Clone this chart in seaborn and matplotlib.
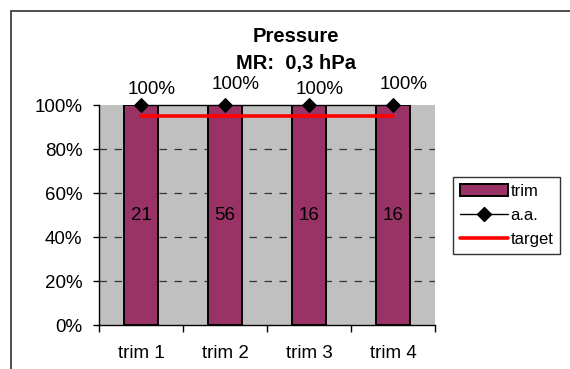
import numpy as np
import pandas as pd
import matplotlib
matplotlib.use("Agg")
import matplotlib.pyplot as plt
import seaborn as sns
from matplotlib.patches import Patch, Rectangle
from matplotlib.lines import Line2D
from matplotlib.ticker import FixedLocator, PercentFormatter

# --- data -------------------------------------------------------------
categories = ["trim 1", "trim 2", "trim 3", "trim 4"]
trim_share = [1.00, 1.00, 1.00, 1.00]      # share of values within MR
trim_counts = [21, 56, 16, 16]             # number of values per trimester
aa_share = [1.00, 1.00, 1.00, 1.00]        # annual aggregate
target_share = [0.95, 0.95, 0.95, 0.95]    # target level
y_ticks = [0.0, 0.2, 0.4, 0.6, 0.8, 1.0]

title_lines = ["Pressure", "MR:  0,3 hPa"]

# --- style ------------------------------------------------------------
sns.set_theme(style="white")
plt.rcParams["font.family"] = ["Liberation Sans", "DejaVu Sans"]
plt.rcParams.update({"text.color": "black", "axes.labelcolor": "black",
                     "xtick.color": "black", "ytick.color": "black"})

BAR = "#993366"
PLOT_BG = "#C0C0C0"
FS = 13.5

W, H = 570, 369
fig = plt.figure(figsize=(W / 100, H / 100), dpi=100)
fig.patch.set_facecolor("white")

# chart frame
fig.add_artist(Rectangle((11 / W, -0.1), 1.2, (1 - 11 / H) + 0.1,
                         transform=fig.transFigure, fill=False,
                         edgecolor="#404040", linewidth=1.3))

ax = fig.add_axes([99 / W, 1 - 325 / H, (435 - 99) / W, (325 - 105) / H])
ax.set_facecolor(PLOT_BG)

df = pd.DataFrame({"period": categories, "share": trim_share})
pos = np.arange(len(categories))

sns.barplot(data=df, x="period", y="share", color=BAR, saturation=1,
            width=0.4, edgecolor="black", linewidth=1.4, ax=ax, zorder=2)
ax.bar_label(ax.containers[0], labels=[str(c) for c in trim_counts],
             label_type="center", fontsize=FS, color="black")

sns.lineplot(x=pos, y=target_share, color="#FF0000", linewidth=2.6,
             ax=ax, zorder=3)
sns.lineplot(x=pos, y=aa_share, color="black", linewidth=1.0, marker="D",
             markersize=7, markeredgecolor="black", ax=ax, zorder=4,
             clip_on=False)

for i, v in enumerate(aa_share):
    dy = 11.5 if i % 2 == 0 else 14.5
    ax.annotate(f"{v:.0%}", (pos[i], v), xytext=(8, dy),
                textcoords="offset points", ha="center", va="center",
                fontsize=FS, annotation_clip=False)

# axes
ax.set_xlim(-0.5, len(categories) - 0.5)
ax.set_ylim(0, 1)
ax.set_xlabel("")
ax.set_ylabel("")
ax.yaxis.set_major_locator(FixedLocator(y_ticks))
ax.yaxis.set_major_formatter(PercentFormatter(1.0, decimals=0))
ax.tick_params(axis="y", direction="out", length=4, width=1, color="black",
               pad=8, labelsize=FS, left=True)

ax.xaxis.set_major_locator(FixedLocator(np.arange(-0.5, len(categories), 1.0)))
ax.xaxis.set_minor_locator(FixedLocator(pos))
ax.set_xticklabels([], minor=False)
ax.set_xticklabels(categories, minor=True)
ax.tick_params(axis="x", which="major", direction="out", length=5, width=1,
               color="black", bottom=True)
ax.tick_params(axis="x", which="minor", length=0, pad=14.5, labelsize=FS)

for y in y_ticks[1:-1]:
    ax.axhline(y, color="#333333", linewidth=0.9, linestyle=(0, (6, 6)),
               zorder=1)

for side in ("top", "right"):
    ax.spines[side].set_visible(False)
for side in ("left", "bottom"):
    ax.spines[side].set_color("black")
    ax.spines[side].set_linewidth(1.0)
ax.grid(False)

# titles
fig.text(296 / W, 1 - 36 / H, title_lines[0], ha="center", va="center",
         fontsize=14.5, fontweight="bold")
fig.text(296 / W, 1 - 63 / H, title_lines[1], ha="center", va="center",
         fontsize=14.5, fontweight="bold")

# legend
handles = [
    Patch(facecolor=BAR, edgecolor="black", linewidth=1.4),
    Line2D([], [], color="black", linewidth=1.0, marker="D", markersize=7),
    Line2D([], [], color="#FF0000", linewidth=2.6),
]
leg = fig.legend(handles, ["trim", "a.a.", "target"],
                 loc="upper left", bbox_to_anchor=(453 / W, 1 - 177 / H),
                 borderaxespad=0, fontsize=12, frameon=True, fancybox=False,
                 edgecolor="black", handlelength=2.9, handletextpad=0.15,
                 labelspacing=0.55, borderpad=0.4)
leg.get_frame().set_linewidth(1.0)

fig.savefig("out.png", dpi=100)
